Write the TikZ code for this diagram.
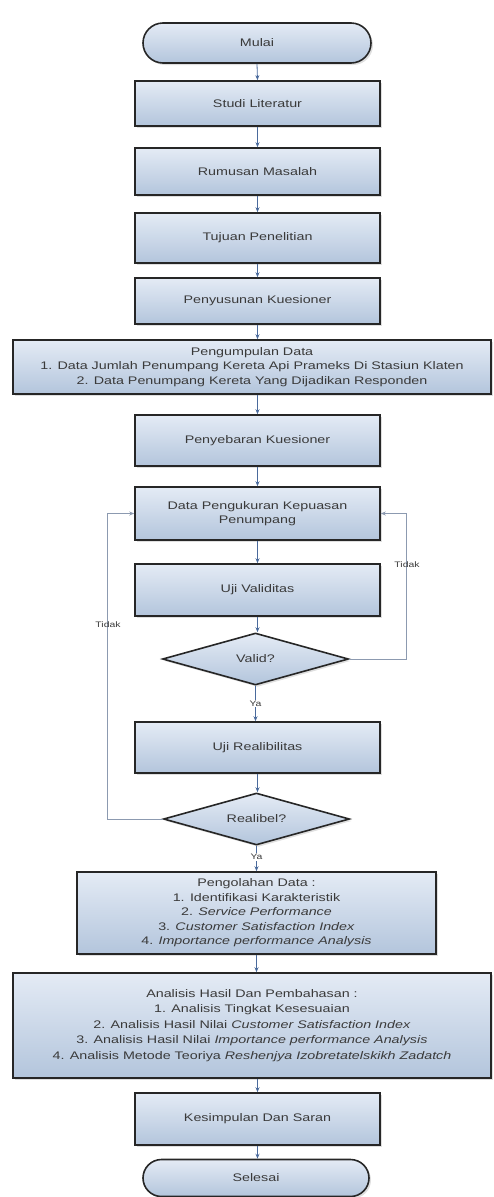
\documentclass[tikz,border=0pt]{standalone}
\usepackage{fontspec}
\setmainfont[FakeStretch=1.3]{Liberation Sans}
\usetikzlibrary{shapes.geometric,shapes.misc,arrows.meta,shadows}
\definecolor{boxtop}{HTML}{E4EBF5}
\definecolor{boxbot}{HTML}{B3C5DC}
\definecolor{txt}{HTML}{3A3A3A}
\definecolor{conn}{HTML}{4A6A9C}
\definecolor{loopc}{HTML}{8C9AB0}
\tikzset{
  base/.style={draw=black!85, line width=1.6pt, top color=boxtop, bottom color=boxbot,
    text=txt, align=center, inner sep=1pt,
    font=\fontsize{11}{14.5}\selectfont,
    drop shadow={opacity=0.25, shadow xshift=2pt, shadow yshift=-2pt}},
  procbox/.style={base, rectangle, minimum width=245pt},
  termbox/.style={base, rounded rectangle, minimum width=230pt, minimum height=40pt},
  decbox/.style={base, diamond, aspect=3.5, inner sep=0pt, minimum width=186pt, minimum height=52pt},
  conline/.style={draw=conn, line width=0.8pt, -{Stealth[length=5pt,width=4pt]}},
  loopline/.style={draw=loopc, line width=0.8pt, -{Stealth[length=5pt,width=4pt]}},
  lbl/.style={text=txt, font=\fontsize{8}{9}\selectfont, inner sep=1pt}
}
\begin{document}
\begin{tikzpicture}[x=1pt,y=-1pt]
\useasboundingbox (0,0) rectangle (493,1197);
\node[termbox] (mulai) at (257,43) {Mulai};
\node[procbox, minimum height=45pt] (studi) at (257.5,103.5) {Studi Literatur};
\node[procbox, minimum height=47pt] (rumusan) at (257.5,171.5) {Rumusan Masalah};
\node[procbox, minimum height=50pt] (tujuan) at (257.5,238) {Tujuan Penelitian};
\node[procbox, minimum height=46pt] (susun) at (257.5,301) {Penyusunan Kuesioner};
\node[procbox, minimum width=478pt, minimum height=54pt] (kumpul) at (252,367)
  {Pengumpulan Data\\1. Data Jumlah Penumpang Kereta Api Prameks Di Stasiun Klaten\\2. Data Penumpang Kereta Yang Dijadikan Responden};
\node[procbox, minimum height=51pt] (sebar) at (257.5,440.5) {Penyebaran Kuesioner};
\node[procbox, minimum height=53pt] (ukur) at (257.5,513.5) {Data Pengukuran Kepuasan\\Penumpang};
\node[procbox, minimum height=52pt] (ujival) at (257.5,590) {Uji Validitas};
\node[decbox] (valid) at (255.5,659) {Valid?};
\node[procbox, minimum height=51pt] (ujirel) at (257.5,747.5) {Uji Realibilitas};
\node[decbox] (reliabel) at (256.5,819) {Realibel?};
\node[procbox, minimum width=359pt, minimum height=82pt] (olah) at (256.5,913)
  {Pengolahan Data :\\1. Identifikasi Karakteristik\\2. \textit{Service Performance}\\3. \textit{Customer Satisfaction Index}\\4. \textit{Importance performance Analysis}};
\node[procbox, minimum width=478pt, minimum height=105pt, font=\fontsize{11}{15.5}\selectfont] (analisis) at (252,1025.5)
  {Analisis Hasil Dan Pembahasan :\\1. Analisis Tingkat Kesesuaian\\2. Analisis Hasil Nilai \textit{Customer Satisfaction Index}\\3. Analisis Hasil Nilai \textit{Importance performance Analysis}\\4. Analisis Metode Teoriya \textit{Reshenjya Izobretatelskikh Zadatch}};
\node[procbox, minimum height=52pt] (simpul) at (257.5,1119) {Kesimpulan Dan Saran};
\node[termbox, minimum width=228pt, minimum height=37pt] (selesai) at (256,1178) {Selesai};

\draw[conline] (mulai.south) -- (studi.north);
\draw[conline] (studi.south) -- (rumusan.north);
\draw[conline] (rumusan.south) -- (tujuan.north);
\draw[conline] (tujuan.south) -- (susun.north);
\draw[conline] (susun.south) -- (susun.south |- kumpul.north);
\draw[conline] (sebar.north |- kumpul.south) -- (sebar.north);
\draw[conline] (sebar.south) -- (ukur.north);
\draw[conline] (ukur.south) -- (ujival.north);
\draw[conline] (ujival.south) -- (ujival.south |- valid.north);
\draw[conline] (valid.south) -- node[lbl, fill=white, pos=0.5] {Ya} (valid.south |- ujirel.north);
\draw[conline] (ujirel.south) -- (ujirel.south |- reliabel.north);
\draw[conline] (reliabel.south) -- node[lbl, fill=white, pos=0.45] {Ya} (reliabel.south |- olah.north);
\draw[conline] (olah.south) -- (olah.south |- analisis.north);
\draw[conline] (simpul.north |- analisis.south) -- (simpul.north);
\draw[conline] (simpul.south) -- (simpul.south |- selesai.north);

\coordinate (rtop) at (406,513.5);
\coordinate (ltop) at (107,513.5);
\draw[loopline] (valid.east) -| (rtop) -- (ukur.east);
\draw[loopline] (reliabel.west) -| (ltop) -- (ukur.west);
\node[lbl] (tidak1) at (407,565) {Tidak};
\node[lbl] (tidak2) at (108,625) {Tidak};
\end{tikzpicture}
\end{document}
